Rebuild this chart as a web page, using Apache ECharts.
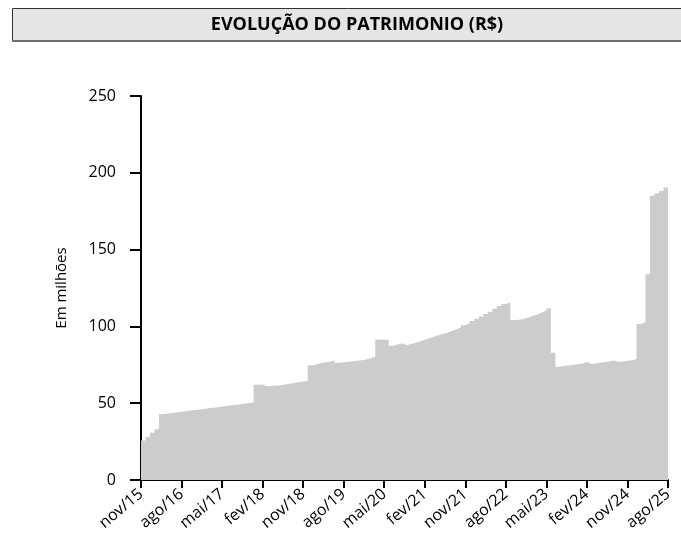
<!DOCTYPE html>
<html>
<head>
<meta charset="utf-8">
<script src="https://cdn.jsdelivr.net/npm/echarts@6/dist/echarts.min.js"></script>
<style>
html,body{margin:0;padding:0;background:#fff;}
#chart{width:681px;height:553px;}
</style>
</head>
<body>
<div id="chart"></div>
<script>
const monthNames = ['jan','fev','mar','abr','mai','jun','jul','ago','set','out','nov','dez'];
const startMonthIndex = 10; // nov
const startYear = 15;
const titleText = 'EVOLUÇÃO DO PATRIMONIO (R$)';
const yAxisName = 'Em milhões';
const yTicks = [0, 50, 100, 150, 200, 250];

// Patrimônio mensal (R$ milhões), nov/15 .. ago/25
const patrimonio = [
  25.7, 28, 30.8, 33, 43, 43.3, 43.7, 44.1, 44.4, 44.8,
  45.2, 45.6, 45.9, 46.3, 46.7, 47.1, 47.4, 47.8, 48.2, 48.6,
  48.9, 49.3, 49.7, 50.1, 50.5, 62, 62.2, 61, 61.2, 61.4,
  61.7, 62.2, 62.7, 63.2, 63.6, 64, 64.5, 74.5, 75.3, 76,
  76.6, 77.2, 77.8, 76.3, 76.6, 77, 77.3, 77.7, 78, 78.5,
  79.3, 80.3, 91.3, 91.5, 91.2, 87.4, 88.2, 89, 87.9, 88.5,
  89.3, 90.3, 91.3, 92.3, 93.3, 94.2, 95, 95.9, 97, 98.2,
  99.3, 100.8, 102, 103.5, 105, 106.5, 108, 109.5, 111.5, 113.2,
  114.6, 115.6, 104.2, 104.4, 105, 105.8, 106.8, 107.8, 109, 110.3,
  111.8, 82.8, 73.8, 74.2, 74.6, 75, 75.4, 75.9, 76.8, 75.5,
  75.9, 76.3, 76.8, 77.2, 77.8, 76.8, 77.2, 77.6, 78, 78.8,
  101.5, 102.8, 134, 185, 186.5, 188.2, 190.5, 188
];

const categories = patrimonio.map((_, i) => {
  const m = (startMonthIndex + i) % 12;
  const y = startYear + Math.floor((startMonthIndex + i) / 12);
  return monthNames[m] + '/' + y;
});

const chart = echarts.init(document.getElementById('chart'), null, {renderer: 'canvas'});
const FONT = '"Open Sans", "DejaVu Sans", sans-serif';

chart.setOption({
  animation: false,
  backgroundColor: '#ffffff',
  textStyle: {fontFamily: FONT},
  graphic: [
    {type: 'rect', shape: {x: 12.5, y: 8.5, width: 690, height: 32},
     style: {fill: '#e5e5e5', stroke: '#333333', lineWidth: 1}},
    {type: 'line', shape: {x1: 12, y1: 41, x2: 681, y2: 41},
     style: {stroke: '#6e6e6e', lineWidth: 2}},
    {type: 'text', x: 357, y: 25,
     style: {text: titleText, fontFamily: FONT, fontWeight: 'bold', fontSize: 18,
             fill: '#000', textAlign: 'center', textVerticalAlign: 'middle'}}
  ],
  grid: {left: 141, right: 13, top: 96, bottom: 73, containLabel: false},
  xAxis: {
    type: 'category',
    data: categories,
    boundaryGap: false,
    axisLine: {lineStyle: {color: '#000', width: 2}},
    axisTick: {interval: 8, length: 8, lineStyle: {color: '#000', width: 2}},
    axisLabel: {interval: 8, rotate: 40, margin: 12, color: '#000', fontSize: 16, fontFamily: FONT},
    splitLine: {show: false}
  },
  yAxis: {
    type: 'value',
    min: 0, max: 250, interval: 50,
    name: yAxisName,
    nameLocation: 'middle',
    nameGap: 72,
    nameTextStyle: {color: '#000', fontSize: 15, fontFamily: FONT},
    axisLine: {show: true, lineStyle: {color: '#000', width: 2}},
    axisTick: {show: true, length: 11, lineStyle: {color: '#000', width: 2}},
    axisLabel: {margin: 25, color: '#000', fontSize: 16, fontFamily: FONT,
                formatter: v => yTicks.includes(v) ? String(v) : ''},
    splitLine: {show: false}
  },
  series: [{
    type: 'line',
    data: patrimonio,
    step: 'end',
    symbol: 'none',
    lineStyle: {width: 0, color: '#cccccc'},
    itemStyle: {color: '#cccccc'},
    areaStyle: {color: '#cccccc', opacity: 1},
    z: 1
  }]
});
</script>
</body>
</html>
